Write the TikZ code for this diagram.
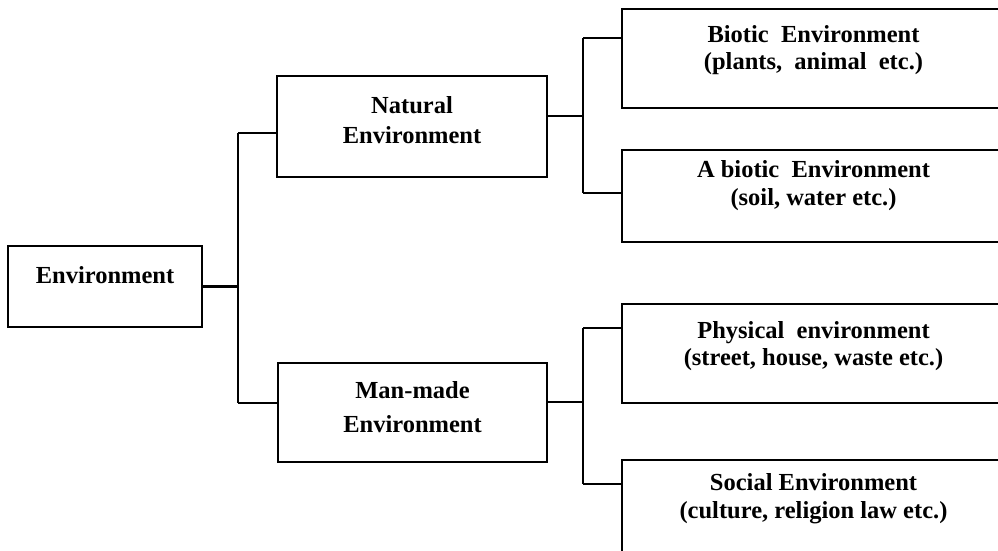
\documentclass[tikz,border=0pt]{standalone}
\usepackage{fontspec}
\setmainfont{Liberation Serif}
\begin{document}
\begin{tikzpicture}[x=1pt,y=-1pt,
  box/.style={draw=black, line width=2.3pt, rectangle, inner sep=0pt, align=center},
  lines/.style={font=\bfseries\fontsize{24.5}{#1}\selectfont},
  link/.style={draw=black, line width=2.2pt}]
  \clip (0,0) rectangle (998,550);
  \fill[white] (0,0) rectangle (998,550);

  % root box and the two main groups
  \node[box, lines=29, minimum width=194, minimum height=81, text height=16pt, text depth=23pt] (env) at (105,286.5) {Environment};
  \node[box, lines=30, minimum width=270, minimum height=101, text height=46pt, text depth=13pt] (nat) at (412,126.5) {Natural\\Environment};
  \node[box, lines=34, minimum width=269, minimum height=99, text height=50pt, text depth=11pt] (man) at (412.5,412.5) {Man-made\\Environment};

  % sub-groups (their right edges run past the page edge)
  \node[box, lines=27, minimum width=383, minimum height=99, text height=43pt, text depth=22pt] (bio) at (813.5,58.5) {Biotic\ \ Environment\\(plants,\ \ animal\ \ etc.)};
  \node[box, lines=28, minimum width=383, minimum height=92, text height=44pt, text depth=26pt] (abio) at (813.5,196) {A biotic\ \ Environment\\(soil, water etc.)};
  \node[box, lines=27, minimum width=383, minimum height=99, text height=43pt, text depth=20pt] (phys) at (813.5,353.5) {Physical\ \ environment\\(street, house, waste etc.)};
  \node[box, lines=28, minimum width=383, minimum height=100, text height=44pt, text depth=28pt] (soc) at (813.5,510) {Social Environment\\(culture, religion law etc.)};

  % bracket from the root
  \coordinate (rt) at (238,133);
  \coordinate (rb) at (238,403);
  \draw[link] (rt) -- (rb);
  \draw[link] (env.east) -- (env.east -| rt);
  \draw[link] (rt) -- (rt -| nat.west);
  \draw[link] (rb) -- (rb -| man.west);

  % bracket from the natural environment
  \coordinate (nt) at (583,38);
  \coordinate (nm) at (583,116);
  \coordinate (nb) at (583,193);
  \draw[link] (nt) -- (nb);
  \draw[link] (nm -| nat.east) -- (nm);
  \draw[link] (nt) -- (nt -| bio.west);
  \draw[link] (nb) -- (nb -| abio.west);

  % bracket from the man-made environment
  \coordinate (mt) at (583,328);
  \coordinate (mm) at (583,402);
  \coordinate (mb) at (583,484);
  \draw[link] (mt) -- (mb);
  \draw[link] (mm -| man.east) -- (mm);
  \draw[link] (mt) -- (mt -| phys.west);
  \draw[link] (mb) -- (mb -| soc.west);
\end{tikzpicture}
\end{document}
